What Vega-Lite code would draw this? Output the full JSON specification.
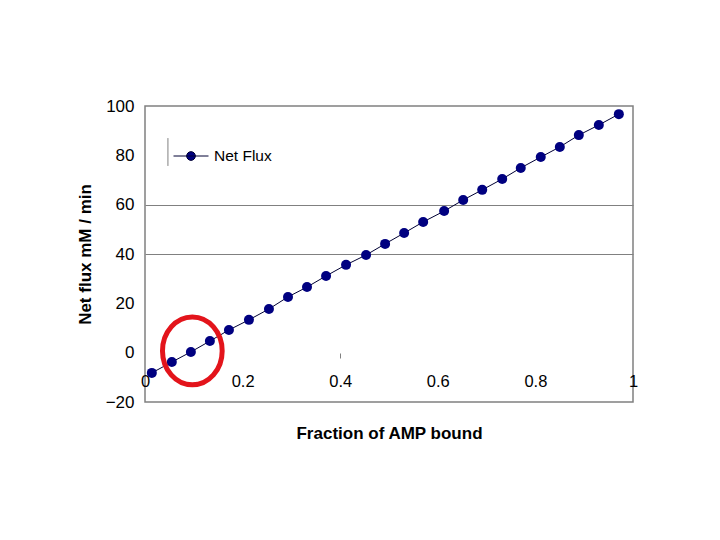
{
  "$schema": "https://vega.github.io/schema/vega-lite/v6.json",
  "width": 488,
  "height": 296,
  "autosize": "none",
  "padding": {"left": 145, "top": 106, "right": 87, "bottom": 138},
  "background": "white",
  "config": {
    "view": {"stroke": "#808080", "strokeWidth": 1.5},
    "font": "Liberation Sans"
  },
  "datasets": {
    "flux": [
      {"x": 0.014, "y": -8.2, "series": "Net Flux"},
      {"x": 0.055, "y": -3.8, "series": "Net Flux"},
      {"x": 0.094, "y": 0.3, "series": "Net Flux"},
      {"x": 0.133, "y": 4.7, "series": "Net Flux"},
      {"x": 0.172, "y": 9.2, "series": "Net Flux"},
      {"x": 0.213, "y": 13.3, "series": "Net Flux"},
      {"x": 0.254, "y": 17.7, "series": "Net Flux"},
      {"x": 0.293, "y": 22.6, "series": "Net Flux"},
      {"x": 0.332, "y": 26.6, "series": "Net Flux"},
      {"x": 0.371, "y": 31.1, "series": "Net Flux"},
      {"x": 0.412, "y": 35.6, "series": "Net Flux"},
      {"x": 0.453, "y": 39.6, "series": "Net Flux"},
      {"x": 0.492, "y": 44.1, "series": "Net Flux"},
      {"x": 0.531, "y": 48.5, "series": "Net Flux"},
      {"x": 0.570, "y": 53.0, "series": "Net Flux"},
      {"x": 0.613, "y": 57.4, "series": "Net Flux"},
      {"x": 0.652, "y": 61.9, "series": "Net Flux"},
      {"x": 0.691, "y": 66.0, "series": "Net Flux"},
      {"x": 0.732, "y": 70.4, "series": "Net Flux"},
      {"x": 0.770, "y": 74.9, "series": "Net Flux"},
      {"x": 0.811, "y": 79.3, "series": "Net Flux"},
      {"x": 0.850, "y": 83.4, "series": "Net Flux"},
      {"x": 0.889, "y": 88.2, "series": "Net Flux"},
      {"x": 0.930, "y": 92.3, "series": "Net Flux"},
      {"x": 0.971, "y": 96.7, "series": "Net Flux"}
    ],
    "highlight": [{"x": 0.097, "y": 0.7}],
    "legendbar": [{"x": 0.047, "y": 75.7, "y2": 87}]
  },
  "layer": [
    {
      "data": {"name": "flux"},
      "mark": {"type": "line", "color": "#000033", "strokeWidth": 1},
      "encoding": {
        "x": {
          "field": "x",
          "type": "quantitative",
          "scale": {"domain": [0, 1], "nice": false, "zero": false},
          "axis": {
            "values": [0, 0.2, 0.4, 0.6, 0.8, 1],
            "format": "~g",
            "offset": -49,
            "domain": false,
            "grid": false,
            "ticks": true,
            "tickSize": 5,
            "tickColor": "#808080",
            "tickOpacity": {"condition": {"test": "abs(datum.value - 0.4) < 0.001", "value": 1}, "value": 0},
            "labelFlush": false,
            "labelOverlap": false,
            "labelFontSize": 16.5,
            "labelColor": "black",
            "labelPadding": 15,
            "title": "Fraction of AMP bound",
            "titleFontSize": 17,
            "titleFontWeight": "bold",
            "titleColor": "black",
            "titlePadding": 36
          }
        },
        "y": {
          "field": "y",
          "type": "quantitative",
          "scale": {"domain": [-20, 100], "nice": false},
          "axis": {
            "values": [-20, 0, 20, 40, 60, 80, 100],
            "domain": false,
            "ticks": false,
            "grid": true,
            "gridColor": "#808080",
            "gridWidth": 1,
            "gridOpacity": {"condition": {"test": "datum.value == 40 || datum.value == 60", "value": 1}, "value": 0},
            "labelFlush": false,
            "labelOverlap": false,
            "labelFontSize": 17,
            "labelColor": "black",
            "labelPadding": 11,
            "title": "Net flux mM / min",
            "titleFontSize": 17,
            "titleFontWeight": "bold",
            "titleColor": "black",
            "titlePadding": 11
          }
        }
      }
    },
    {
      "data": {"name": "flux"},
      "mark": {"type": "point", "filled": true, "size": 100, "opacity": 1},
      "encoding": {
        "x": {"field": "x", "type": "quantitative"},
        "y": {"field": "y", "type": "quantitative"},
        "color": {
          "field": "series",
          "type": "nominal",
          "scale": {"range": ["#000080"]},
          "legend": {
            "title": null,
            "orient": "none",
            "legendX": 28,
            "legendY": 32,
            "padding": 0,
            "symbolType": "M-1,0L1,0M0.25,0A0.25,0.25 0 1,1 -0.25,0A0.25,0.25 0 1,1 0.25,0Z",
            "symbolSize": 1225,
            "symbolStrokeColor": "#000033",
            "symbolFillColor": "#000080",
            "symbolStrokeWidth": 1,
            "labelFontSize": 15.5,
            "labelColor": "black",
            "labelOffset": 5
          }
        }
      }
    },
    {
      "data": {"name": "legendbar"},
      "mark": {"type": "rule", "color": "#808080", "strokeWidth": 1},
      "encoding": {
        "x": {"field": "x", "type": "quantitative"},
        "y": {"field": "y", "type": "quantitative"},
        "y2": {"field": "y2"}
      }
    },
    {
      "data": {"name": "highlight"},
      "mark": {
        "type": "point",
        "shape": "M-0.88,0A0.88,1 0 1,0 0.88,0A0.88,1 0 1,0 -0.88,0Z",
        "size": 4600,
        "filled": false,
        "stroke": "#e3141b",
        "strokeWidth": 5,
        "opacity": 1
      },
      "encoding": {
        "x": {"field": "x", "type": "quantitative"},
        "y": {"field": "y", "type": "quantitative"}
      }
    }
  ]
}
